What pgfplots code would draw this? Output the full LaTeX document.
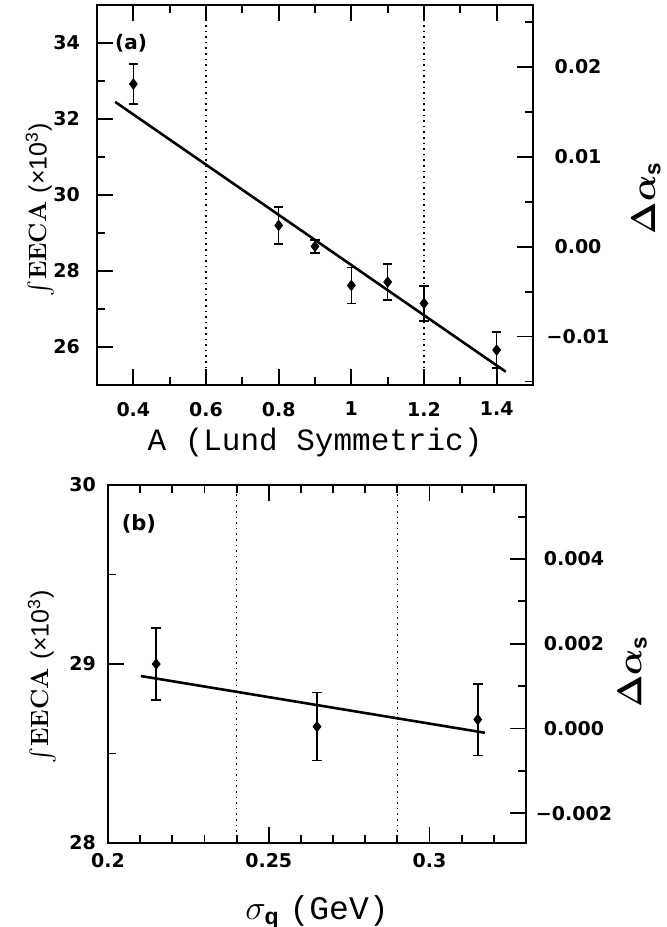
\documentclass[border=0pt]{standalone}
\usepackage{amsmath}
\usepackage{pgfplots}
\pgfplotsset{compat=1.18}
\usepackage{fontspec}
\newfontfamily\tickfont{DejaVu Sans}
\setmonofont{Liberation Mono}
\setsansfont{Liberation Sans}
\newcommand{\mns}{{\char"2212}}
\pgfplotstableread{
x y e
0.4 32.92 0.53
0.8 29.20 0.49
0.9 28.65 0.17
1.0 27.62 0.47
1.1 27.71 0.47
1.2 27.15 0.46
1.4 25.92 0.48
}\dataA
\pgfplotstableread{
x y e
0.215 29.00 0.20
0.265 28.65 0.19
0.315 28.69 0.20
}\dataB
\begin{document}
\begin{tikzpicture}
\useasboundingbox (0pt,0pt) rectangle (333pt,-463.5pt);
\pgfplotsset{
  common/.style={
    scale only axis,
    scaled ticks=false,
    tick align=inside,
    major tick length=8pt, minor tick length=4pt,
    axis line style={line width=1.1pt},
    every tick/.style={line width=0.9pt, black},
    tick label style={font=\tickfont\bfseries\fontsize{9.5}{11}\selectfont},
    clip=false,
  },
  eecalabel/.style={ylabel={$\int$\kern0.5pt\textrm{\bfseries EECA}\ \textsf{(×10\textsuperscript{3})}},
    ylabel style={font=\fontsize{12.5}{14}\selectfont, anchor=center}},
  dalabel/.style={ylabel={$\boldsymbol{\Delta}\boldsymbol{\alpha}_{\textsf{\bfseries s}}$},
    ylabel style={font=\fontsize{16}{18}\selectfont, anchor=center}},
  pts/.style={only marks, mark=diamond*, mark size=2.6pt, black,
    error bars/.cd, y dir=both, y explicit,
    error bar style={line width=0.8pt, black},
    error mark options={rotate=90, mark size=2.4pt, line width=0.8pt, black}},
}
% ---------------- panel (a) ----------------
\begin{axis}[common,
  at={(48.5pt,-192.5pt)}, anchor=south west, width=218pt, height=190pt,
  xmin=0.3, xmax=1.5, ymin=25, ymax=35,
  xtick={0.4,0.6,0.8,1,1.2,1.4}, xticklabels={0.4,0.6,0.8,1,1.2,1.4},
  minor xtick={0.5,0.7,0.9,1.1,1.3},
  ytick={26,28,30,32,34}, yticklabels={26,28,30,32,34},
  minor ytick={27,29,31,33},
  ytick pos=left,
  xticklabel style={yshift=-5pt},
  yticklabel style={xshift=-5pt},
  xlabel={\texttt{A (Lund Symmetric)}},
  xlabel style={font=\fontsize{15.5}{18}\selectfont, at={(axis description cs:0.5,-0.15)}, anchor=center},
  eecalabel,
  ylabel style={at={(axis description cs:-0.131,0.46)}},
]
\addplot[dotted, line width=0.8pt] coordinates {(0.6,25) (0.6,35)};
\addplot[dotted, line width=0.8pt] coordinates {(1.2,25) (1.2,35)};
\addplot[line width=1.3pt] coordinates {(0.35,32.45) (1.425,25.35)};
\addplot[pts] table[x=x, y=y, y error=e] {\dataA};
\node[font=\tickfont\bfseries\fontsize{10}{12}\selectfont, anchor=west, inner sep=0pt] at (axis cs:0.349,34) {(a)};
\end{axis}
\begin{axis}[common,
  at={(48.5pt,-192.5pt)}, anchor=south west, width=218pt, height=190pt,
  xmin=0.3, xmax=1.5, ymin=-0.015385, ymax=0.026881,
  axis x line=none, yticklabel pos=right, ytick pos=right,
  ytick={-0.01,0,0.01,0.02}, yticklabels={\mns0.01,0.00,0.01,0.02},
  minor ytick={-0.015,-0.005,0.005,0.015,0.025},
  yticklabel style={anchor=center, xshift=22.5pt},
  dalabel,
  ylabel style={at={(axis description cs:1.259,0.492)}},
]
\addplot[draw=none] coordinates {(0.3,0) (1.5,0)};
\end{axis}
% ---------------- panel (b) ----------------
\begin{axis}[common,
  at={(54pt,-421.5pt)}, anchor=south west, width=209pt, height=179pt,
  xmin=0.2, xmax=0.33, ymin=28, ymax=30,
  xtick={0.2,0.25,0.3}, xticklabels={0.2,0.25,0.3},
  minor xtick={0.21,0.22,0.23,0.24,0.26,0.27,0.28,0.29,0.31,0.32},
  ytick={28,29,30}, yticklabels={28,29,30},
  minor ytick={28.5,29.5},
  ytick pos=left,
  xticklabel style={yshift=-1.5pt},
  yticklabel style={xshift=-2.5pt},
  xlabel={$\sigma_{\textsf{\bfseries q}}$\ \texttt{(GeV)}},
  xlabel style={font=\fontsize{16.5}{19}\selectfont, at={(axis description cs:0.5,-0.193)}, anchor=center},
  eecalabel,
  ylabel style={at={(axis description cs:-0.158,0.464)}},
]
\addplot[dotted, line width=0.8pt] coordinates {(0.24,28) (0.24,30)};
\addplot[dotted, line width=0.8pt] coordinates {(0.29,28) (0.29,30)};
\addplot[line width=1.3pt] coordinates {(0.2102,28.933) (0.3172,28.616)};
\addplot[pts] table[x=x, y=y, y error=e] {\dataB};
\node[font=\tickfont\bfseries\fontsize{10.5}{12}\selectfont, anchor=center] at (axis cs:0.2096,29.78) {(b)};
\end{axis}
\begin{axis}[common,
  at={(54pt,-421.5pt)}, anchor=south west, width=209pt, height=179pt,
  xmin=0.2, xmax=0.33, ymin=-0.0027050, ymax=0.0057481,
  axis x line=none, yticklabel pos=right, ytick pos=right,
  ytick={-0.002,0,0.002,0.004}, yticklabels={\mns0.002,0.000,0.002,0.004},
  minor ytick={-0.001,0.001,0.003,0.005},
  yticklabel style={anchor=center, xshift=24pt},
  dalabel,
  ylabel style={at={(axis description cs:1.254,0.478)}},
]
\addplot[draw=none] coordinates {(0.2,0) (0.33,0)};
\end{axis}
\end{tikzpicture}
\end{document}
